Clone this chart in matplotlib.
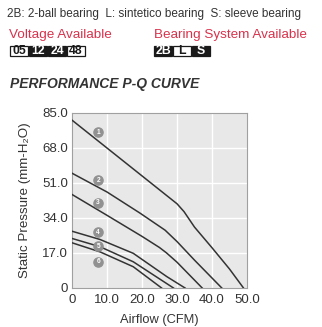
import numpy as np
import matplotlib
matplotlib.use("Agg")
import matplotlib.pyplot as plt

plt.rcParams['font.family'] = ['Liberation Sans', 'DejaVu Sans']

# P-Q curves (airflow CFM, static pressure mm-H2O)
c1_x = [0, 10, 20, 30, 32, 35, 40, 45, 49]
c1_y = [81.3, 67.8, 54.3, 40.8, 37.0, 29.5, 19.5, 9.2, 0]
c2_x = [0, 10, 19.4, 26.6, 30, 35, 42.8]
c2_y = [55.6, 46.5, 36.3, 28.0, 22.5, 13.5, 0]
c3_x = [0, 10, 20, 25, 27, 30, 37.2]
c3_y = [45.3, 35.2, 25.0, 19.6, 17.0, 12.5, 0]
c4_x = [0, 8, 17.5, 27.1, 32.3]
c4_y = [27.5, 23.5, 16.8, 5.5, 0]
c5_x = [0, 8, 17.5, 29.0]
c5_y = [24.0, 20.0, 12.7, 0]
c6_x = [0, 8, 17.5, 25.6]
c6_y = [21.9, 17.5, 10.3, 0]
curves = [(c1_x, c1_y), (c2_x, c2_y), (c3_x, c3_y),
          (c4_x, c4_y), (c5_x, c5_y), (c6_x, c6_y)]

tag_labels = ['1', '2', '3', '4', '5', '6']
tag_x = [7.5, 7.5, 7.5, 7.5, 7.5, 7.5]
tag_y = [75.5, 52.2, 41.4, 26.9, 20.3, 12.6]

x_ticks = [0, 10, 20, 30, 40, 50]
x_tick_labels = ['0', '10.0', '20.0', '30.0', '40.0', '50.0']
y_ticks = [0, 17, 34, 51, 68, 85]
y_tick_labels = ['0', '17.0', '34.0', '51.0', '68.0', '85.0']

voltages = ['05', '12', '24', '48']
volt_dark = [False, True, True, False]
bearings = ['2B', 'L', 'S']
bear_dark = [True, False, True]

W, H = 322, 327
fig = plt.figure(figsize=(W / 100, H / 100), dpi=100)
fig.patch.set_facecolor('white')

def fx(px):
    return px / W

def fy(py):
    return 1 - py / H

# header texts
fig.text(fx(7), fy(14), '2B: 2-ball bearing  L: sintetico bearing  S: sleeve bearing',
         fontsize=8.5, color='#333333', va='center', ha='left')
red = '#d8324c'
fig.text(fx(9), fy(35), 'Voltage Available', fontsize=9.7, color=red, va='center')
fig.text(fx(154), fy(35), 'Bearing System Available', fontsize=9.7, color=red, va='center')

def boxes(labels, dark, x0, widths):
    x = x0
    for lab, d, w in zip(labels, dark, widths):
        fc = '#1a1a1a' if d else 'white'
        tc = 'white' if d else '#1a1a1a'
        r = plt.Rectangle((fx(x), fy(56)), w / W, 10 / H, transform=fig.transFigure,
                          facecolor=fc, edgecolor='#1a1a1a', lw=0.9)
        fig.add_artist(r)
        fig.text(fx(x + w / 2), fy(51), lab, fontsize=8.8, fontweight='bold',
                 color=tc, ha='center', va='center')
        x += w + 1

boxes(voltages, volt_dark, 10, [18, 18, 18, 18])
boxes(bearings, bear_dark, 154, [18, 18, 18])

fig.text(fx(10), fy(84), 'PERFORMANCE P-Q CURVE', fontsize=10, fontweight='bold',
         fontstyle='italic', color='#333333', va='center')

ax = fig.add_axes([fx(72), fy(288), 175 / W, 175.5 / H])
ax.set_facecolor('#e8e8e8')
for x in x_ticks[1:-1]:
    ax.axvline(x, color='white', lw=1.0, zorder=1)
for y in y_ticks[1:-1]:
    ax.axhline(y, color='white', lw=1.0, zorder=1)

for cx, cy in curves:
    ax.plot(cx, cy, color='#333333', lw=1.1, zorder=3, solid_joinstyle='round')

for lab, tx, ty in zip(tag_labels, tag_x, tag_y):
    ax.plot(tx, ty, 'o', ms=6.6, color='#919191', zorder=4)
    ax.text(tx, ty, lab, fontsize=4.8, color='white', fontweight='bold',
            ha='center', va='center', zorder=5)

ax.set_xlim(0, 50)
ax.set_ylim(0, 85)
ax.set_xticks(x_ticks)
ax.set_xticklabels(x_tick_labels)
ax.set_yticks(y_ticks)
ax.set_yticklabels(y_tick_labels)
ax.tick_params(length=0, labelsize=9.5, colors='#333333', pad=3)
ax.tick_params(axis='x', pad=4)
for s in ax.spines.values():
    s.set_color('#a0a0a0')
    s.set_linewidth(0.8)

ax.set_xlabel('Airflow (CFM)', fontsize=9.3, color='#333333', labelpad=6)
ax.set_ylabel('Static Pressure (mm-H\u2082O)', fontsize=9.6, color='#333333', labelpad=8)

fig.savefig('out.png', dpi=100)
